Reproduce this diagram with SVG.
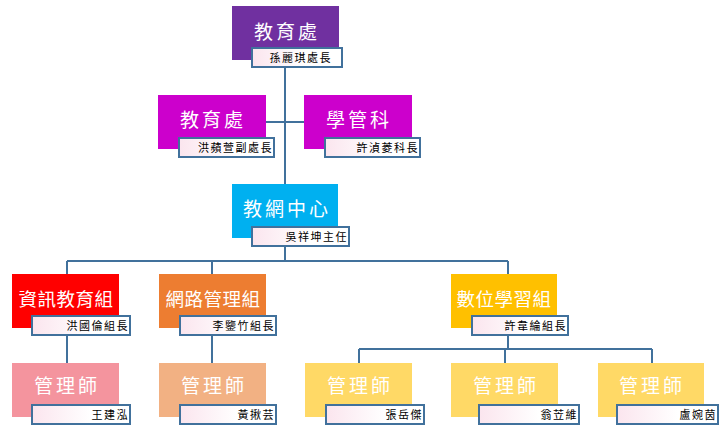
<svg xmlns="http://www.w3.org/2000/svg" width="728" height="430" viewBox="0 0 728 430">
<style>
.t{font-family:"Noto Sans CJK TC","Noto Sans CJK SC",sans-serif;font-size:19px;fill:#fff;text-anchor:middle;letter-spacing:3px}
.t5{letter-spacing:0.5px;font-size:18.5px}
.l{font-family:"Noto Sans CJK TC","Noto Sans CJK SC",sans-serif;font-size:11px;fill:#000;text-anchor:end;letter-spacing:1.5px}
.lb{fill:url(#lg);stroke:#41719C;stroke-width:2}
.c{fill:none;stroke:#41719C;stroke-width:2}
</style>
<defs>
<linearGradient id="lg" x1="0" y1="0" x2="1" y2="0">
<stop offset="0" stop-color="#FBE5EE"/>
<stop offset="0.6" stop-color="#FFFFFF"/>
<stop offset="1" stop-color="#FFFFFF"/>
</linearGradient>
</defs>
<g id="connectors">
<path class="c" d="M285 68V184M266 122H304M285 246V261M67 261H508M67 261V274M212 261V274M508 261V274"/>
<path class="c" d="M67 335V363M212 335V363M508 335V349M359 349H652M359 349V363M505 349V363M652 349V363"/>
</g>
<g id="n1"><rect x="232" y="6" width="107" height="54" fill="#7030A0"/><text class="t" x="287" y="39">教育處</text><rect class="lb" x="252" y="48" width="90" height="19"/><text class="l" x="332" y="62">孫麗琪處長</text></g>
<g id="n2"><rect x="158" y="95" width="108" height="54" fill="#CC00CC"/><text class="t" x="213" y="127">教育處</text><rect class="lb" x="179" y="138" width="95" height="19"/><text class="l" x="273" y="152">洪蘋萱副處長</text></g>
<g id="n3"><rect x="304" y="95" width="108" height="54" fill="#CC00CC"/><text class="t" x="359" y="127">學管科</text><rect class="lb" x="325" y="138" width="95" height="19"/><text class="l" x="419" y="152">許湞菱科長</text></g>
<g id="n4"><rect x="232" y="184" width="106" height="54" fill="#00B0F0"/><text class="t" x="287" y="216">教網中心</text><rect class="lb" x="252" y="227" width="97" height="19"/><text class="l" x="348" y="241">吳祥坤主任</text></g>
<g id="n5"><rect x="12" y="274" width="107" height="54" fill="#FF0000"/><text class="t t5" x="66" y="306">資訊教育組</text><rect class="lb" x="32" y="316" width="98" height="19"/><text class="l" x="129" y="330">洪國倫組長</text></g>
<g id="n6"><rect x="159" y="274" width="107" height="54" fill="#ED7D31"/><text class="t t5" x="213" y="306">網路管理組</text><rect class="lb" x="180" y="316" width="96" height="19"/><text class="l" x="275" y="330">李鑒竹組長</text></g>
<g id="n7"><rect x="451" y="274" width="106" height="54" fill="#FFC000"/><text class="t t5" x="504" y="306">數位學習組</text><rect class="lb" x="472" y="316" width="96" height="19"/><text class="l" x="567" y="330">許韋綸組長</text></g>
<g id="n8"><rect x="12" y="363" width="107" height="54" fill="#F4949E"/><text class="t" x="67" y="393">管理師</text><rect class="lb" x="32" y="405" width="98" height="19"/><text class="l" x="129" y="419">王建泓</text></g>
<g id="n9"><rect x="159" y="363" width="107" height="54" fill="#F2B183"/><text class="t" x="214" y="393">管理師</text><rect class="lb" x="180" y="405" width="96" height="19"/><text class="l" x="275" y="419">黃揪芸</text></g>
<g id="n10"><rect x="305" y="363" width="107" height="54" fill="#FFD966"/><text class="t" x="360" y="393">管理師</text><rect class="lb" x="326" y="405" width="98" height="19"/><text class="l" x="423" y="419">張岳傑</text></g>
<g id="n11"><rect x="451" y="363" width="107" height="54" fill="#FFD966"/><text class="t" x="506" y="393">管理師</text><rect class="lb" x="479" y="405" width="100" height="19"/><text class="l" x="578" y="419">翁苙維</text></g>
<g id="n12"><rect x="598" y="363" width="106" height="54" fill="#FFD966"/><text class="t" x="652" y="393">管理師</text><rect class="lb" x="617" y="405" width="101" height="19"/><text class="l" x="717" y="419">盧婉茵</text></g>
</svg>
